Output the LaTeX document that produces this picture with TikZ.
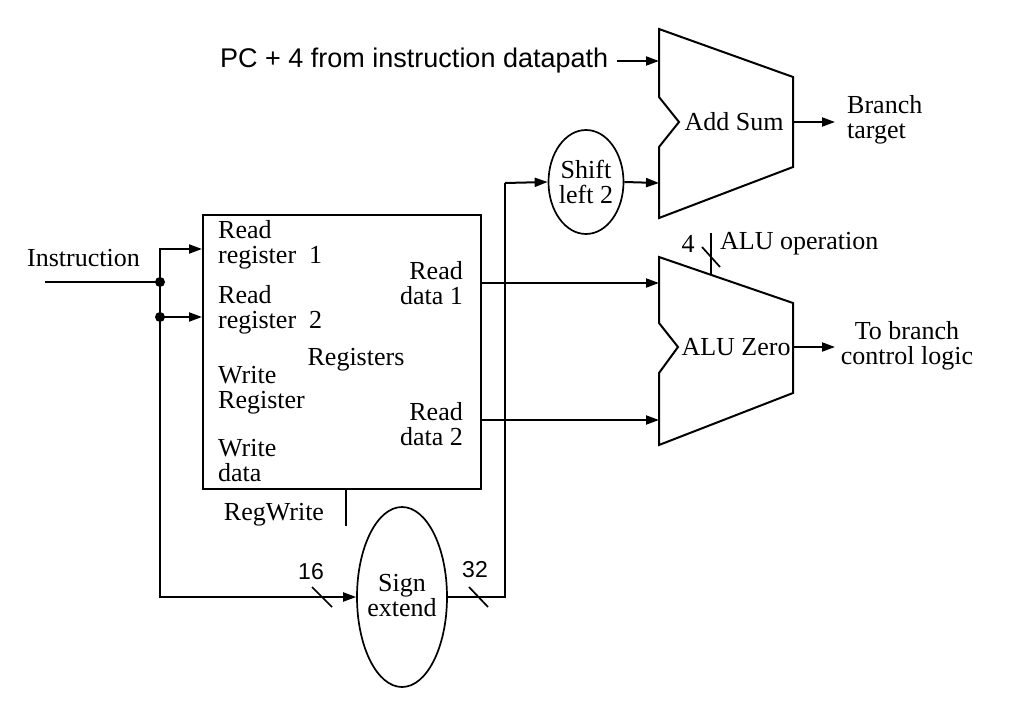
\documentclass[tikz,border=0pt]{standalone}
\usepackage{fontspec}
\setmainfont{Liberation Serif}
\newfontfamily\lsans{Liberation Sans}
\usetikzlibrary{shapes.geometric,arrows.meta}
\begin{document}
\begin{tikzpicture}[x=1pt,y=-1pt,
  wire/.style={line width=2pt},
  arr/.style={wire,-{Triangle[length=13pt,width=9pt]}},
  lbl/.style={inner sep=0pt,font=\fontsize{26}{25}\selectfont},
  lbll/.style={lbl,align=left,anchor=west},
  lblr/.style={lbl,align=right,anchor=east},
  lblc/.style={lbl,align=center},
  unit/.style={line width=2pt,line join=miter},
  oval/.style={ellipse,draw,line width=1.7pt,inner sep=0pt},
  dot/.style={circle,fill,inner sep=0pt,minimum size=10pt},
  bus/.style={line width=1.7pt},
  bits/.style={inner sep=0pt,font=\lsans\fontsize{23}{23}\selectfont}
]
\useasboundingbox (0,0) rectangle (1019,703);
\fill[white] (0,0) rectangle (1019,703);

% Register file
\node[draw,line width=2pt,minimum width=278pt,minimum height=274pt,inner sep=0pt,anchor=north west] (rf) at (202,214) {};
\node[lbll] (rr1t) at (218,245) {Read\\register\ \ 1};
\node[lbll] (rr2t) at (218,310) {Read\\register\ \ 2};
\node[lbll] (wrt) at (218,390) {Write\\Register};
\node[lbll] (wdt) at (218,461) {Write\\data};
\node[lblc] (regs) at (356,360) {Registers};
\node[lblr] (rd1t) at (463,283) {Read\\data 1};
\node[lblr] (rd2t) at (463,424) {Read\\data 2};
\coordinate (rr1) at (202,249);
\coordinate (rr2) at (202,317);
\coordinate (rd1) at (480,283);
\coordinate (rd2) at (480,420);

% Adder
\draw[unit] (659,29) -- (793,77) -- (793,167) -- (659,218) -- (659,147) -- (679,122) -- (659,97) -- cycle;
\node[lblc] (addt) at (734,122) {Add Sum};
\coordinate (addA) at (659,61);
\coordinate (addB) at (659,183);
\coordinate (addO) at (793,122);

% ALU
\draw[unit] (659,257) -- (793,303) -- (793,393) -- (659,445) -- (659,373) -- (678,347) -- (659,323) -- cycle;
\node[lblc] (alut) at (736,347) {ALU Zero};
\coordinate (aluA) at (659,283);
\coordinate (aluB) at (659,420);
\coordinate (aluO) at (793,347);
\coordinate (aluC) at (711,274);
\coordinate (aluCtop) at (711,233);

% Ellipses
\node[oval,minimum width=90pt,minimum height=180pt] (se) at (402,597) {};
\node[lblc] (set) at (402,596) {Sign\\extend};
\node[oval,minimum width=75pt,minimum height=104pt] (sl) at (586,182) {};
\node[lblc] (slt) at (586,182) {Shift\\left 2};

% Text labels
\node[lbl,anchor=west] (instr) at (27,258) {Instruction};
\node[inner sep=0pt,anchor=west,font=\lsans\fontsize{27}{27}\selectfont] (pc4) at (220,61) {PC + 4 from instruction datapath};
\node[lbll] (bt) at (847,120) {Branch\\target};
\node[lblc] (tb) at (907,346) {To branch\\control logic};
\node[lbl,anchor=west] (aluop) at (720,244) {ALU operation};
\node[lbl] (four) at (688,244) {4};
\node[lbl] (rw) at (274,515) {RegWrite};
\node[bits] (b16) at (311,572) {16};
\node[bits] (b32) at (475,570) {32};

% Instruction wiring
\coordinate (instrin) at (45,282);
\node[dot] (j1) at (160,282) {};
\node[dot] (j2) at (160,317) {};
\draw[wire] (instrin) -- (j1.center);
\draw[arr] (j1.center) |- (rr1);
\draw[wire] (j1.center) -- (j2.center);
\draw[arr] (j2.center) -- (rr2);
\draw[arr] (j2.center) |- (se.west);

% Data paths
\draw[arr] (rd1) -- (aluA);
\draw[arr] (rd2) -- (aluB);
\draw[wire] (se.east) -| (505,183) coordinate (slin);
\draw[arr] (slin) -- (sl.west);
\draw[arr] (sl.east) -- (addB);
\draw[arr] (pc4.east) ++(9,0) coordinate (pcs) (pcs) -- (addA);
\draw[arr] (addO) -- (835,122) coordinate (addend);
\draw[arr] (aluO) -- (835,347) coordinate (aluend);
\draw[wire] (aluCtop) -- (aluC);
\draw[wire] (rf.south -| 346,0) -- (346,526) coordinate (rwend);

% bus width slashes
\draw[bus] (312,587) -- (332,607);
\draw[bus] (469,587) -- (488,607);
\draw[bus] (702,247) -- (720,267);
\end{tikzpicture}
\end{document}
